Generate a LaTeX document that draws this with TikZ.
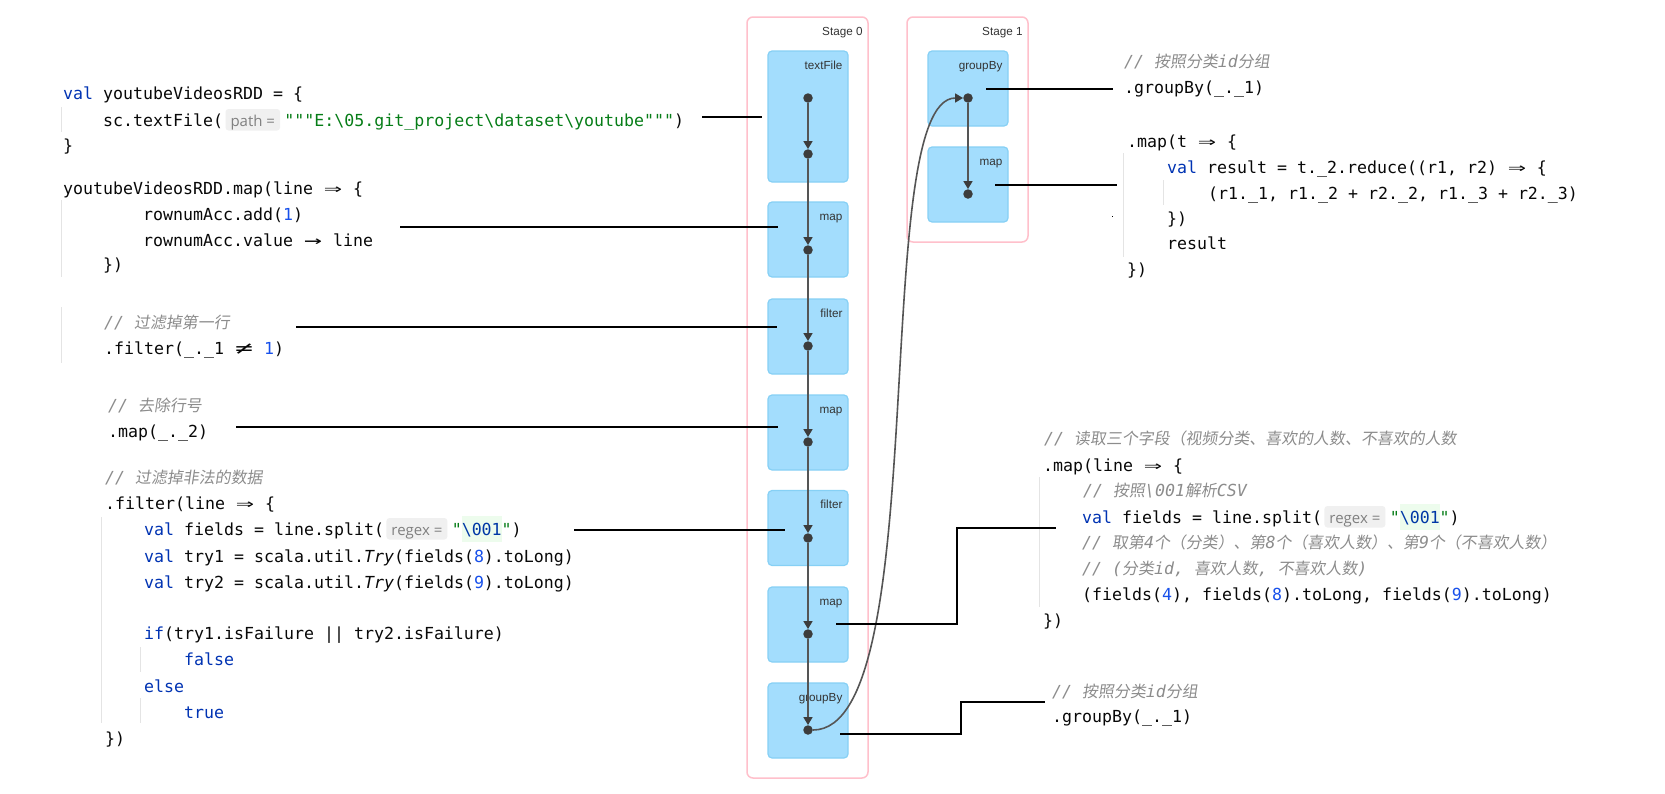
\documentclass[tikz,border=0pt]{standalone}
\usepackage{fontspec}
\usepackage{xcolor}
\usepackage{graphicx}
\setmainfont{Liberation Sans}
\newfontfamily\codefont{DejaVu Sans Mono}
\newfontfamily\cjkit[FakeSlant=0.15,Scale=0.96]{Noto Sans CJK SC}
\newfontfamily\hintfont{Open Sans}
\usetikzlibrary{arrows.meta,calc}

\definecolor{codefg}{HTML}{080808}
\definecolor{kwc}{HTML}{0033B3}
\definecolor{numc}{HTML}{1750EB}
\definecolor{strc}{HTML}{067D17}
\definecolor{cmtc}{HTML}{8C8C8C}
\definecolor{hintbg}{HTML}{F0F0F0}
\definecolor{hintfg}{HTML}{808080}
\definecolor{escbg}{HTML}{EDFCED}
\definecolor{escfg}{HTML}{0037A6}
\definecolor{guidec}{HTML}{E4E4E4}
\definecolor{stagec}{HTML}{FFC0CB}
\definecolor{opfill}{HTML}{A3DDFD}
\definecolor{opdraw}{HTML}{86D0F5}
\definecolor{edgec}{HTML}{555555}
\definecolor{dotc}{HTML}{3C3C3C}
\definecolor{lblc}{HTML}{333333}

\newcommand\kwd[1]{\textcolor{kwc}{#1}}
\newcommand\nbr[1]{\textcolor{numc}{#1}}
\newcommand\strg[1]{\textcolor{strc}{#1}}
\newcommand\cmt[1]{{\color{cmtc}\itshape #1}}
\newcommand\cjk[1]{{\upshape\cjkit #1}}
\newcommand\lig[1]{\makebox[1.204em][c]{\scalebox{1.8}[1.05]{#1}}}
\newcommand\escseq[1]{{\setlength\fboxsep{0pt}\colorbox{escbg}{\rule[-7pt]{0pt}{26pt}\textcolor{escfg}{#1}}}}

\tikzset{
  code/.style={anchor=base west, inner sep=0pt, text=codefg, font=\codefont\fontsize{16.6pt}{20pt}\selectfont},
  hint/.style={anchor=base west, fill=hintbg, rounded corners=3pt, text=hintfg, font=\hintfont\fontsize{15pt}{17pt}\selectfont, inner xsep=5pt, inner ysep=0pt, text height=17pt, text depth=4.5pt},
  guide/.style={draw=guidec, line width=1pt},
  stagebox/.style={draw=stagec, line width=1.5pt, rounded corners=6pt, minimum width=121pt},
  opbox/.style={draw=opdraw, fill=opfill, line width=1.2pt, rounded corners=4pt, minimum width=80pt},
  lbl/.style={anchor=base east, inner sep=0pt, text=lblc, font=\fontsize{11.7pt}{14pt}\selectfont},
  dot/.style={circle, fill=dotc, inner sep=0pt, minimum size=9.5pt},
  edge/.style={draw=edgec, line width=1.6pt, -{Triangle[length=8pt,width=9pt,color=dotc]}},
  conn/.style={draw=black, line width=1.1pt}
}

\begin{document}
\begin{tikzpicture}[x=1pt,y=-1pt]
\useasboundingbox (0,0) rectangle (1665,793);
\fill[white] (0,0) rectangle (1665,793);

% ---------- indent guides ----------
\draw[guide] (61,107) -- (61,132);
\draw[guide] (61,200) -- (61,277);
\draw[guide] (61,307) -- (61,363);
\draw[guide] (101,517) -- (101,723);
\draw[guide] (140,647) -- (140,672);
\draw[guide] (140,698) -- (140,723);
\draw[guide] (1123,153) -- (1123,257);
\draw[guide] (1163,180) -- (1163,205);
\draw[guide] (1039,477) -- (1039,607);

% ---------- left code ----------
\node[code] (l1) at (63,99) {\kwd{val} youtubeVideosRDD = \{};
\node[code] (l2a) at (103,126) {sc.textFile(};
\node[hint] (h1) at ($(l2a.base east)+(2,0)$) {path =};
\node[code] (l2b) at ($(h1.base east)+(4,0)$) {\strg{"""E:\textbackslash 05.git\_project\textbackslash dataset\textbackslash youtube"""})};
\node[code] (l3) at (63,151) {\}};
\node[code] (l4) at (63,194) {youtubeVideosRDD.map(line \lig{⇒} \{};
\node[code] (l5) at (143,220) {rownumAcc.add(\nbr{1})};
\node[code] (l6) at (143,246) {rownumAcc.value \lig{→} line};
\node[code] (l7) at (103,270) {\})};
\node[code] (l8) at (104,328) {\cmt{// \cjk{过滤掉第一行}}};
\node[code] (l9) at (104,354) {.filter(\_.\_1 \lig{≠} \nbr{1})};
\node[code] (l10) at (108,411) {\cmt{// \cjk{去除行号}}};
\node[code] (l11) at (108,437) {.map(\_.\_2)};
\node[code] (l12) at (105,483) {\cmt{// \cjk{过滤掉非法的数据}}};
\node[code] (l13) at (105,509) {.filter(line \lig{⇒} \{};
\node[code] (l14a) at (144,535) {\kwd{val} fields = line.split(};
\node[hint] (h2) at ($(l14a.base east)+(2,0)$) {regex =};
\node[code] (l14b) at ($(h2.base east)+(4,0)$) {\strg{"}\escseq{\textbackslash 001}\strg{"})};
\node[code] (l15) at (144,562) {\kwd{val} try1 = scala.util.{\itshape Try}(fields(\nbr{8}).toLong)};
\node[code] (l16) at (144,588) {\kwd{val} try2 = scala.util.{\itshape Try}(fields(\nbr{9}).toLong)};
\node[code] (l17) at (144,639) {\kwd{if}(try1.isFailure || try2.isFailure)};
\node[code] (l18) at (184,665) {\kwd{false}};
\node[code] (l19) at (144,692) {\kwd{else}};
\node[code] (l20) at (184,718) {\kwd{true}};
\node[code] (l21) at (105,744) {\})};

% ---------- right code, top ----------
\node[code] (r1) at (1124,67) {\cmt{// \cjk{按照分类}id\cjk{分组}}};
\node[code] (r2) at (1124,93) {.groupBy(\_.\_1)};
\node[code] (r3) at (1127,147) {.map(t \lig{⇒} \{};
\node[code] (r4) at (1167,173) {\kwd{val} result = t.\_2.reduce((r1, r2) \lig{⇒} \{};
\node[code] (r5) at (1208,199) {(r1.\_1, r1.\_2 + r2.\_2, r1.\_3 + r2.\_3)};
\node[code] (r6) at (1167,224) {\})};
\node[code] (r7) at (1167,249) {result};
\node[code] (r8) at (1127,275) {\})};

% ---------- right code, middle ----------
\node[code] (s1) at (1044,444) {\cmt{// \cjk{读取三个字段（视频分类、喜欢的人数、不喜欢的人数}}};
\node[code] (s2) at (1043,471) {.map(line \lig{⇒} \{};
\node[code] (s3) at (1083,496) {\cmt{// \cjk{按照}\textbackslash 001\cjk{解析}CSV}};
\node[code] (s4a) at (1082,523) {\kwd{val} fields = line.split(};
\node[hint] (h3) at ($(s4a.base east)+(2,0)$) {regex =};
\node[code] (s4b) at ($(h3.base east)+(4,0)$) {\strg{"}\escseq{\textbackslash 001}\strg{"})};
\node[code] (s5) at (1082,548) {\cmt{// \cjk{取第}4\cjk{个（分类）、第}8\cjk{个（喜欢人数）、第}9\cjk{个（不喜欢人数）}}};
\node[code] (s6) at (1082,574) {\cmt{// (\cjk{分类}id, \cjk{喜欢人数}, \cjk{不喜欢人数})}};
\node[code] (s7) at (1082,600) {(fields(\nbr{4}), fields(\nbr{8}).toLong, fields(\nbr{9}).toLong)};
\node[code] (s8) at (1043,626) {\})};

% ---------- right code, bottom ----------
\node[code] (u1) at (1052,697) {\cmt{// \cjk{按照分类}id\cjk{分组}}};
\node[code] (u2) at (1052,722) {.groupBy(\_.\_1)};

% ---------- stages ----------
\node[stagebox, minimum height=761pt] (st0) at (807.5,397.5) {};
\node[stagebox, minimum height=225pt] (st1) at (967.5,129.5) {};
\node[lbl] at ($(st0.north east)+(-6,19)$) {Stage 0};
\node[lbl] at ($(st1.north east)+(-6,19)$) {Stage 1};

% ---------- operator boxes ----------
\node[opbox, minimum height=131pt] (tf) at (808,116.5) {};
\node[opbox, minimum height=75pt] (m1) at (808,239.5) {};
\node[opbox, minimum height=75pt] (f1) at (808,336.5) {};
\node[opbox, minimum height=75pt] (m2) at (808,432.5) {};
\node[opbox, minimum height=75pt] (f2) at (808,528) {};
\node[opbox, minimum height=75pt] (m3) at (808,624.5) {};
\node[opbox, minimum height=75pt] (g1) at (808,720.5) {};
\node[opbox, minimum height=75pt] (gb) at (968,88.5) {};
\node[opbox, minimum height=75pt] (mp) at (968,184.5) {};

\node[lbl] at ($(tf.north east)+(-6,19)$) {textFile};
\node[lbl] at ($(m1.north east)+(-6,19)$) {map};
\node[lbl] at ($(f1.north east)+(-6,19)$) {filter};
\node[lbl] at ($(m2.north east)+(-6,19)$) {map};
\node[lbl] at ($(f2.north east)+(-6,19)$) {filter};
\node[lbl] at ($(m3.north east)+(-6,19)$) {map};
\node[lbl] at ($(g1.north east)+(-6,19)$) {groupBy};
\node[lbl] at ($(gb.north east)+(-6,19)$) {groupBy};
\node[lbl] at ($(mp.north east)+(-6,19)$) {map};

% ---------- dots ----------
\node[dot] (d1) at (808,98) {};
\node[dot] (d2) at (808,154) {};
\node[dot] (d3) at (808,250) {};
\node[dot] (d4) at (808,346) {};
\node[dot] (d5) at (808,442) {};
\node[dot] (d6) at (808,538) {};
\node[dot] (d7) at (808,634) {};
\node[dot] (d8) at (808,730) {};
\node[dot] (e1) at (968,98) {};
\node[dot] (e2) at (968,194) {};

% ---------- DAG edges ----------
\draw[edge] (d1) -- (d2);
\draw[edge] (d2) -- (d3);
\draw[edge] (d3) -- (d4);
\draw[edge] (d4) -- (d5);
\draw[edge] (d5) -- (d6);
\draw[edge] (d6) -- (d7);
\draw[edge] (d7) -- (d8);
\draw[edge] (e1) -- (e2);
\draw[edge] (d8) .. controls (935,730) and (868,98) .. (e1);

% ---------- connectors from code to operators ----------
\coordinate (c1s) at (702,117);  \coordinate (c1e) at (762,117);
\coordinate (c2s) at (400,227);  \coordinate (c2e) at (778,227);
\coordinate (c3s) at (296,327);  \coordinate (c3e) at (777,327);
\coordinate (c4s) at (236,427);  \coordinate (c4e) at (778,427);
\coordinate (c5s) at (574,530);  \coordinate (c5e) at (785,530);
\coordinate (c6s) at (836,624);  \coordinate (c6k) at (957,528);  \coordinate (c6e) at (1056,528);
\coordinate (c7s) at (840,734);  \coordinate (c7k) at (961,702);  \coordinate (c7e) at (1045,702);
\coordinate (c8s) at (986,89);   \coordinate (c8e) at (1113,89);
\coordinate (c9s) at (995,185);  \coordinate (c9e) at (1117,185);

\draw[conn] (c1s) -- (c1e);
\draw[conn] (c2s) -- (c2e);
\draw[conn] (c3s) -- (c3e);
\draw[conn] (c4s) -- (c4e);
\draw[conn] (c5s) -- (c5e);
\draw[conn] (c6s) -| (c6k) -- (c6e);
\draw[conn] (c7s) -| (c7k) -- (c7e);
\draw[conn] (c8s) -- (c8e);
\draw[conn] (c9s) -- (c9e);

\fill[black] (1111.5,215.5) rectangle (1113,217);
\end{tikzpicture}
\end{document}
